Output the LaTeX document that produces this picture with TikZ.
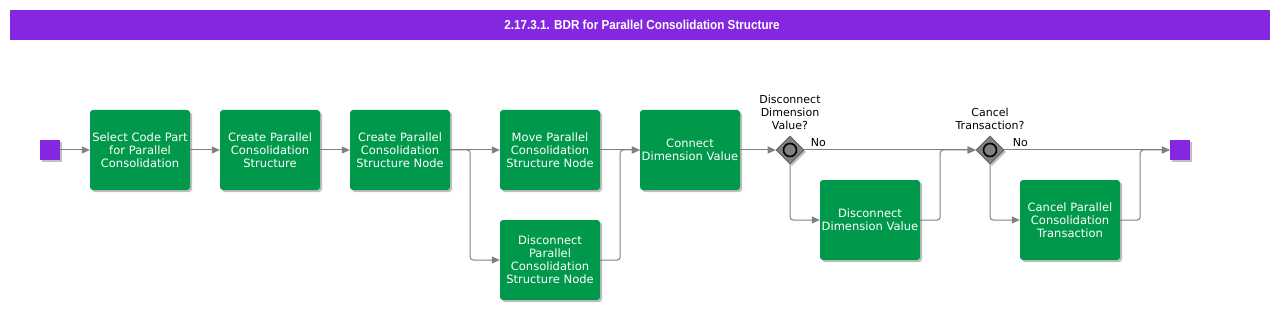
\documentclass[tikz,border=0pt]{standalone}
\usepackage{fontspec}
\setmainfont{DejaVu Sans}
\newfontfamily\titlefont{Liberation Sans}
\usetikzlibrary{shapes.geometric,arrows.meta,shadows}
\definecolor{bpurple}{HTML}{8527E0}
\definecolor{bgreen}{HTML}{00984A}
\definecolor{lgray}{HTML}{808080}
\tikzset{
  task/.style={rectangle, rounded corners=3pt, fill=bgreen, minimum width=100pt, minimum height=80pt,
    text=white, font=\fontsize{11.5}{13}\selectfont, align=center, inner sep=0pt, text width=100pt,
    drop shadow={shadow xshift=2pt, shadow yshift=-2pt, opacity=0.25, fill=black}},
  evt/.style={rectangle, fill=bpurple, minimum size=20pt, inner sep=0pt,
    drop shadow={shadow xshift=2pt, shadow yshift=-2pt, opacity=0.25, fill=black}},
  gate/.style={diamond, fill=lgray, draw=gray!70!black, line width=0.6pt, minimum size=28pt, inner sep=0pt,
    drop shadow={shadow xshift=2pt, shadow yshift=-2pt, opacity=0.25, fill=black}},
  gring/.style={circle, draw=black, line width=1.6pt, fill=lgray, minimum size=13pt, inner sep=0pt},
  flow/.style={draw=lgray, line width=1pt, rounded corners=3pt, -{Triangle[length=8pt,width=7pt]}},
  lbl/.style={font=\fontsize{11}{13}\selectfont, text=black, align=center, inner sep=0pt}
}
\begin{document}
\begin{tikzpicture}[x=1pt,y=-1pt]
\useasboundingbox (0,0) rectangle (1280,310);
\fill[white] (0,0) rectangle (1280,310);
\fill[bpurple] (10,10) rectangle (1270,40);
\node[text=white, inner sep=0pt] (title) at (642,25) {\scalebox{0.9}[1]{\titlefont\bfseries\fontsize{13}{15}\selectfont 2.17.3.1. BDR for Parallel Consolidation Structure}};

\node[evt] (s) at (50,150) {};
\node[task] (b1) at (140,150) {Select Code Part\\for Parallel\\Consolidation};
\node[task] (b2) at (270,150) {Create Parallel\\Consolidation\\Structure};
\node[task] (b3) at (400,150) {Create Parallel\\Consolidation\\Structure Node};
\node[task] (b4) at (550,150) {Move Parallel\\Consolidation\\Structure Node};
\node[task] (b5) at (550,260) {Disconnect\\Parallel\\Consolidation\\Structure Node};
\node[task] (b6) at (690,150) {Connect\\Dimension Value};
\node[gate] (g1) at (790,150) {};
\node[gring] (g1r) at (790,150) {};
\node[task] (b7) at (870,220) {Disconnect\\Dimension Value};
\node[gate] (g2) at (990,150) {};
\node[gring] (g2r) at (990,150) {};
\node[task] (b8) at (1070,220) {Cancel Parallel\\Consolidation\\Transaction};
\node[evt] (e) at (1180,150) {};

\node[lbl, anchor=south] (q1) at ([yshift=6pt]g1.north) {Disconnect\\Dimension\\Value?};
\node[lbl, anchor=south] (q2) at ([yshift=6pt]g2.north) {Cancel\\Transaction?};

\draw[flow] (s) -- (b1);
\draw[flow] (b1) -- (b2);
\draw[flow] (b2) -- (b3);
\draw[flow] (b3) -- (b4);
\draw[flow] (b3.east) -- ++(20,0) |- (b5.west);
\draw[flow] (b4) -- (b6);
\draw[flow] (b5.east) -- ++(20,0) |- (b6.west);
\draw[flow] (b6) -- (g1);
\draw[flow] (g1.east) -- node[lbl, pos=0, anchor=south west, xshift=6pt, yshift=3pt] (n1) {No} (g2.west);
\draw[flow] (g1.south) |- (b7.west);
\draw[flow] (b7.east) -- ++(20,0) |- (g2.west);
\draw[flow] (g2.east) -- node[lbl, pos=0, anchor=south west, xshift=8pt, yshift=3pt] (n2) {No} (e.west);
\draw[flow] (g2.south) |- (b8.west);
\draw[flow] (b8.east) -- ++(20,0) |- (e.west);
\end{tikzpicture}
\end{document}
